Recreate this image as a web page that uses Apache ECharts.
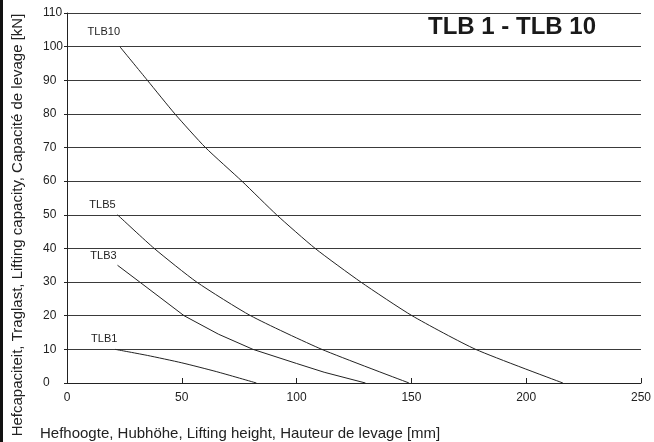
<!DOCTYPE html>
<html>
<head>
<meta charset="utf-8">
<script src="https://cdn.jsdelivr.net/npm/echarts@6/dist/echarts.min.js"></script>
<style>
html,body{margin:0;padding:0;background:#fff;}
#c{width:654px;height:442px;}
</style>
</head>
<body>
<div id="c"></div>
<script>
const chartTitle = 'TLB 1 - TLB 10';
const yAxisTitle = 'Hefcapaciteit, Traglast, Lifting capacity, Capacité de levage [kN]';
const xAxisTitle = 'Hefhoogte, Hubhöhe, Lifting height, Hauteur de levage [mm]';
const seriesNames = ['TLB1', 'TLB3', 'TLB5', 'TLB10'];
const tlb1 = [[21, 10], [35, 8.2], [50, 6], [65, 3.4], [82.5, 0]];
const tlb3 = [[22, 35], [31.7, 30], [51, 20], [66, 14.5], [81, 10], [100, 5.8], [112, 3.2], [130, 0]];
const tlb5 = [[22, 50], [38, 40], [56.5, 30], [80, 20], [111, 10], [149, 0]];
const tlb10 = [[23, 100], [35, 90], [47, 80], [60.3, 70], [76.2, 60], [91.3, 50], [108.1, 40], [128, 30], [150.3, 20], [178, 10], [216, 0]];
const xMin = 0, xMax = 250, xStep = 50;
const yMin = 0, yMax = 110, yStep = 10;

const chart = echarts.init(document.getElementById('c'), null, {renderer: 'canvas'});
const font = 'Liberation Sans, Arial, sans-serif';
const labelOffsets = {TLB1: [-11, -10], TLB3: [-14, -9], TLB5: [-15, -10], TLB10: [-16, -15]};
const smoothness = {TLB1: 0.2, TLB3: 0, TLB5: 0.2, TLB10: 0.2};

function makeSeries(name, pts) {
  return {
    name: name,
    type: 'line',
    smooth: smoothness[name],
    symbol: 'circle',
    symbolSize: 0,
    showSymbol: true,
    lineStyle: {color: '#222', width: 1},
    itemStyle: {color: '#222'},
    data: pts.map((p, i) => i === 0 ? {
      value: p,
      label: {show: true, formatter: name, position: 'inside', offset: labelOffsets[name],
        color: '#222', fontSize: 11, fontFamily: font}
    } : {value: p}),
    z: 3,
    silent: true
  };
}

chart.setOption({
  animation: false,
  backgroundColor: '#fff',
  grid: {left: 67, right: 10, top: 13, bottom: 59},
  xAxis: {
    type: 'value', min: xMin, max: xMax, interval: xStep,
    axisLine: {show: true, lineStyle: {color: '#222', width: 1}},
    axisTick: {show: true, inside: true, length: 5, lineStyle: {color: '#222'}},
    axisLabel: {color: '#222', fontSize: 12, fontFamily: font, margin: 9},
    splitLine: {show: false}
  },
  yAxis: {
    type: 'value', min: yMin, max: yMax, interval: yStep,
    axisLine: {show: true, lineStyle: {color: '#222', width: 1}},
    axisTick: {show: true, length: 3, lineStyle: {color: '#222'}, interval: function (i, v) { return i % 2 === 0; }},
    axisLabel: {color: '#222', fontSize: 12, fontFamily: font, margin: 24, align: 'left',
      formatter: function (v) { return String(v); }},
    splitLine: {show: true, lineStyle: {color: '#3a3a3a', width: 1}}
  },
  series: [
    makeSeries(seriesNames[0], tlb1),
    makeSeries(seriesNames[1], tlb3),
    makeSeries(seriesNames[2], tlb5),
    makeSeries(seriesNames[3], tlb10)
  ],
  graphic: [
    {type: 'rect', shape: {x: 0, y: 0, width: 3, height: 442}, style: {fill: '#111'}},
    {type: 'text', x: 18, y: 225, rotation: Math.PI / 2,
      style: {text: yAxisTitle, fill: '#222', fontSize: 15, fontFamily: font, align: 'center', verticalAlign: 'middle'}},
    {type: 'text', x: 40, y: 434,
      style: {text: xAxisTitle, fill: '#222', fontSize: 15, fontFamily: font, align: 'left', verticalAlign: 'middle'}},
    {type: 'text', x: 512, y: 27,
      style: {text: chartTitle, fill: '#1a1a1a', fontSize: 24, fontWeight: 'bold', fontFamily: font, align: 'center', verticalAlign: 'middle'}}
  ]
});
</script>
</body>
</html>
